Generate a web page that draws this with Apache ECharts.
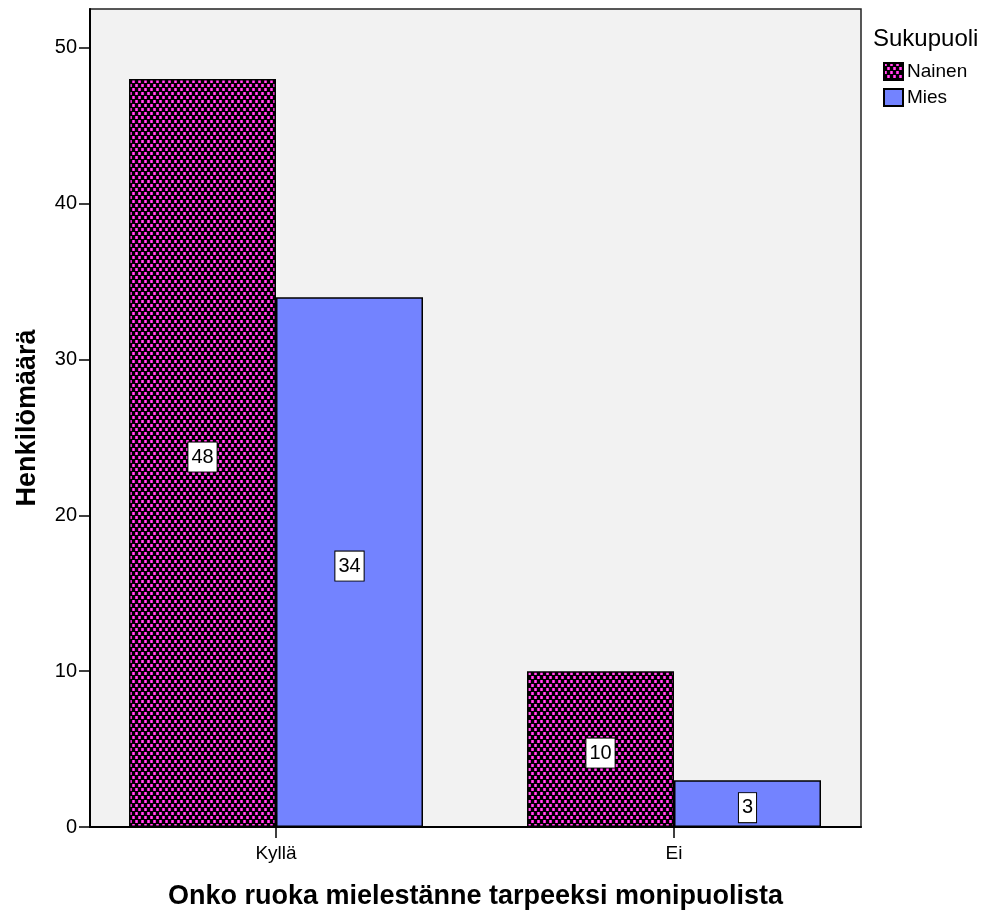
<!DOCTYPE html>
<html>
<head>
<meta charset="utf-8">
<script src="https://cdn.jsdelivr.net/npm/echarts@6/dist/echarts.min.js"></script>
<style>
  html, body { margin: 0; padding: 0; background: #fff; }
  #chart { width: 983px; height: 912px; }
</style>
</head>
<body>
<div id="chart"></div>
<script>
// Answers to "Onko ruoka mielestänne tarpeeksi monipuolista", by gender
const categories = ['Kyllä', 'Ei'];
const seriesNames = ['Nainen', 'Mies'];
const naisetValues = [48, 10];
const miehetValues = [34, 3];
const yTicks = [0, 10, 20, 30, 40, 50];

const FONT = '"Liberation Sans", Arial, sans-serif';

// Black/magenta woven fill used for the "Nainen" bars
function makeWeave() {
  const c = document.createElement('canvas');
  c.width = 6; c.height = 8;
  const g = c.getContext('2d');
  g.fillStyle = '#000';
  g.fillRect(0, 0, 6, 8);
  g.fillStyle = '#e81cc8';
  g.fillRect(0, 0, 3, 3);
  g.fillRect(3, 4, 3, 3);
  g.fillStyle = '#ff5cec';
  g.fillRect(1, 0, 1, 3);
  g.fillRect(4, 4, 1, 3);
  return c;
}
const weave = { image: makeWeave(), repeat: 'repeat' };

const valueLabel = {
  show: true,
  position: 'inside',
  offset: [0, 4],
  color: '#000',
  fontFamily: FONT,
  fontSize: 20,
  backgroundColor: '#fff',
  borderColor: '#000',
  borderWidth: 1,
  padding: [5, 3, 4, 3]
};

const chart = echarts.init(document.getElementById('chart'), null, { renderer: 'canvas' });
chart.setOption({
  animation: false,
  textStyle: { fontFamily: FONT },
  title: {
    text: 'Sukupuoli',
    left: 868,
    top: 22,
    textStyle: { fontFamily: FONT, fontSize: 24, fontWeight: 'normal', color: '#000' }
  },
  legend: {
    orient: 'vertical',
    left: 878,
    top: 57,
    itemWidth: 19,
    itemHeight: 17,
    itemGap: 7,
    icon: 'rect',
    data: seriesNames,
    textStyle: { fontFamily: FONT, fontSize: 19, color: '#000', padding: [0, 0, 0, -1] }
  },
  grid: [
    {
      left: 90, right: 122, top: 9, bottom: 85, outerBoundsMode: 'none', containLabel: false,
      show: true, backgroundColor: '#f2f2f2', borderColor: '#222', borderWidth: 1.5
    },
    { left: 77, right: 110, top: 9, bottom: 85, outerBoundsMode: 'none', containLabel: false }
  ],
  xAxis: [
    {
      gridIndex: 0, type: 'value', min: 0, max: 1,
      axisLine: { show: true, lineStyle: { color: '#000', width: 2 } },
      axisTick: { show: false }, axisLabel: { show: false }, splitLine: { show: false },
      name: 'Onko ruoka mielestänne tarpeeksi monipuolista',
      nameLocation: 'middle',
      nameGap: 56,
      nameTextStyle: { fontFamily: FONT, fontSize: 27, fontWeight: 'bold', color: '#000' }
    },
    {
      gridIndex: 1, type: 'category', data: categories,
      axisLine: { show: false },
      axisTick: { show: true, alignWithLabel: true, length: 11, lineStyle: { color: '#000', width: 1.5 } },
      axisLabel: { fontFamily: FONT, fontSize: 19, color: '#000', margin: 17 }
    }
  ],
  yAxis: [
    {
      gridIndex: 0, type: 'value', min: 0, max: 52.5, interval: 10,
      axisLine: { show: true, lineStyle: { color: '#000', width: 2 } },
      axisTick: { show: true, length: 11, customValues: yTicks, lineStyle: { color: '#000', width: 1.5 } },
      axisLabel: {
        fontFamily: FONT, fontSize: 20, color: '#000', margin: 13,
        customValues: yTicks
      },
      splitLine: { show: false },
      name: 'Henkilömäärä',
      nameLocation: 'middle',
      nameGap: 49,
      nameTextStyle: { fontFamily: FONT, fontSize: 27, fontWeight: 'bold', color: '#000' }
    },
    {
      gridIndex: 1, type: 'value', min: 0, max: 52.5, show: false
    }
  ],
  series: [
    {
      name: seriesNames[0], type: 'bar', xAxisIndex: 1, yAxisIndex: 1,
      data: naisetValues, barWidth: 147, barGap: '0%',
      itemStyle: { color: weave, borderColor: '#000', borderWidth: 1.5 },
      label: valueLabel
    },
    {
      name: seriesNames[1], type: 'bar', xAxisIndex: 1, yAxisIndex: 1,
      data: miehetValues, barWidth: 147, barGap: '0%',
      itemStyle: { color: '#7383ff', borderColor: '#000', borderWidth: 1.5 },
      label: valueLabel
    }
  ]
});
</script>
</body>
</html>
